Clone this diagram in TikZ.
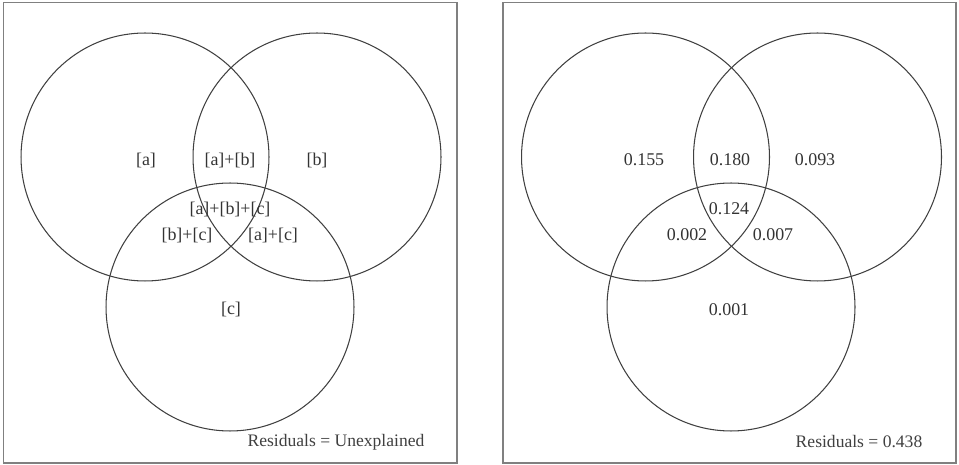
\documentclass[tikz,border=0pt]{standalone}
\usepackage{fontspec}
\setmainfont{Liberation Serif}
\usepackage{tikz}
\usetikzlibrary{positioning}
\tikzset{
  panel/.style={draw=black!50, line width=1pt},
  venn/.style={circle, draw=black!75, line width=0.6pt, minimum size=4.96cm,
    inner sep=0pt},
  part/.style={font=\fontsize{10.2}{12}\selectfont, text=black!80, inner sep=1pt},
  resid/.style={font=\fontsize{10}{12}\selectfont, text=black!75, inner sep=1pt}
}
\begin{document}
\begin{tikzpicture}[x=0.02cm, y=-0.02cm]
  \useasboundingbox (0,0) rectangle (959,465);

  % Left panel: components
  \draw[panel] (3.5,2.5) rectangle (457,463);
  \node[venn] (la) at (145,157) {};
  \node[venn] (lb) at (317,157) {};
  \node[venn] (lc) at (230,307) {};
  \node[part] (la-only) at (146,160) {[a]};
  \node[part] (lab) at (230,160) {[a]+[b]};
  \node[part] (lb-only) at (317,160) {[b]};
  \node[part] (labc) at (230,209) {[a]+[b]+[c]};
  \node[part] (lbc) at (187,235) {[b]+[c]};
  \node[part] (lac) at (273,235) {[a]+[c]};
  \node[part] (lc-only) at (231,309) {[c]};
  \node[resid] (lres) at (336,442) {Residuals = Unexplained};

  % Right panel: fractions
  \draw[panel] (503,2.5) rectangle (956,463);
  \node[venn] (ra) at (645.5,157) {};
  \node[venn] (rb) at (817.5,157) {};
  \node[venn] (rc) at (731,307) {};
  \node[part] (ra-only) at (644,160) {0.155};
  \node[part] (rab) at (730,160) {0.180};
  \node[part] (rb-only) at (815,160) {0.093};
  \node[part] (rabc) at (729,209) {0.124};
  \node[part] (rbc) at (687,235) {0.002};
  \node[part] (rac) at (773,235) {0.007};
  \node[part] (rc-only) at (729,310) {0.001};
  \node[resid] (rres) at (859,442) {Residuals = 0.438};
\end{tikzpicture}
\end{document}
